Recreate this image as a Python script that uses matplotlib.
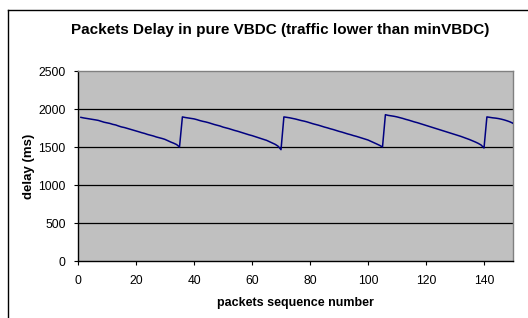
import matplotlib
matplotlib.use("Agg")
import matplotlib.pyplot as plt
from matplotlib.lines import Line2D

plt.rcParams['font.family'] = ['Liberation Sans', 'DejaVu Sans']

title = "Packets Delay in pure VBDC (traffic lower than minVBDC)"
xlabel = "packets sequence number"
ylabel = "delay (ms)"

cycle1 = [1890, 1882, 1876, 1870, 1864, 1857, 1850, 1838, 1826, 1818, 1810, 1798,
          1790, 1776, 1764, 1756, 1745, 1735, 1722, 1712, 1700, 1688, 1678, 1665,
          1655, 1645, 1632, 1622, 1612, 1600, 1582, 1565, 1550, 1532, 1500]
cycle2 = [1896, 1888, 1882, 1876, 1870, 1860, 1848, 1838, 1830, 1820, 1808, 1796,
          1786, 1776, 1762, 1752, 1742, 1730, 1718, 1708, 1696, 1684, 1672, 1660,
          1650, 1638, 1625, 1612, 1600, 1588, 1570, 1552, 1535, 1510, 1465]
cycle3 = [1896, 1890, 1884, 1876, 1868, 1858, 1848, 1840, 1830, 1818, 1806, 1796,
          1786, 1774, 1762, 1752, 1740, 1730, 1718, 1706, 1696, 1684, 1672, 1662,
          1650, 1640, 1628, 1616, 1604, 1592, 1575, 1558, 1540, 1522, 1500]
cycle4 = [1925, 1916, 1910, 1904, 1896, 1886, 1876, 1864, 1854, 1842, 1830, 1820,
          1808, 1796, 1784, 1772, 1760, 1748, 1736, 1724, 1712, 1700, 1688, 1676,
          1664, 1652, 1640, 1626, 1612, 1598, 1582, 1566, 1548, 1526, 1487]
cycle5 = [1896, 1890, 1884, 1880, 1874, 1866, 1856, 1844, 1830, 1812]

delay = cycle1 + cycle2 + cycle3 + cycle4 + cycle5
seq = list(range(1, len(delay) + 1))

xticks = [0, 20, 40, 60, 80, 100, 120, 140]
yticks = [0, 500, 1000, 1500, 2000, 2500]

fig = plt.figure(figsize=(5.28, 3.18), dpi=100)
fig.patch.set_facecolor('white')

# outer frame (chart border)
fig.add_artist(Line2D([8/528, 8/528], [0, 1 - 10/318], transform=fig.transFigure,
                      color='black', lw=1.0))
fig.add_artist(Line2D([8/528, 1], [1 - 10/318, 1 - 10/318], transform=fig.transFigure,
                      color='black', lw=1.0))

ax = fig.add_axes([78/528, 1 - 261/318, (513 - 78)/528, (261 - 71)/318])
ax.set_facecolor('#C0C0C0')
ax.plot(seq, delay, color='#000080', lw=1.1, zorder=3)

ax.set_xlim(0, 150)
ax.set_ylim(0, 2500)
ax.set_xticks(xticks)
ax.set_yticks(yticks)
ax.tick_params(axis='both', labelsize=8.7, length=3, width=0.8, direction='out',
               color='black', labelcolor='black')
ax.tick_params(axis='x', pad=7)
ax.tick_params(axis='y', pad=6)

for y in yticks[1:-1]:
    ax.axhline(y, color='black', lw=0.9, zorder=1)

ax.spines['left'].set_color('black')
ax.spines['bottom'].set_color('black')
ax.spines['top'].set_color('#808080')
ax.spines['right'].set_color('#808080')
for s in ax.spines.values():
    s.set_linewidth(1.0)

ax.set_xlabel(xlabel, fontsize=9, fontweight='bold', labelpad=7)
ax.set_ylabel(ylabel, fontsize=9.5, fontweight='bold', labelpad=2)

fig.text(280/528, 1 - 30/318, title, fontsize=11, fontweight='bold',
         ha='center', va='center')

fig.savefig('out.png', dpi=100)
